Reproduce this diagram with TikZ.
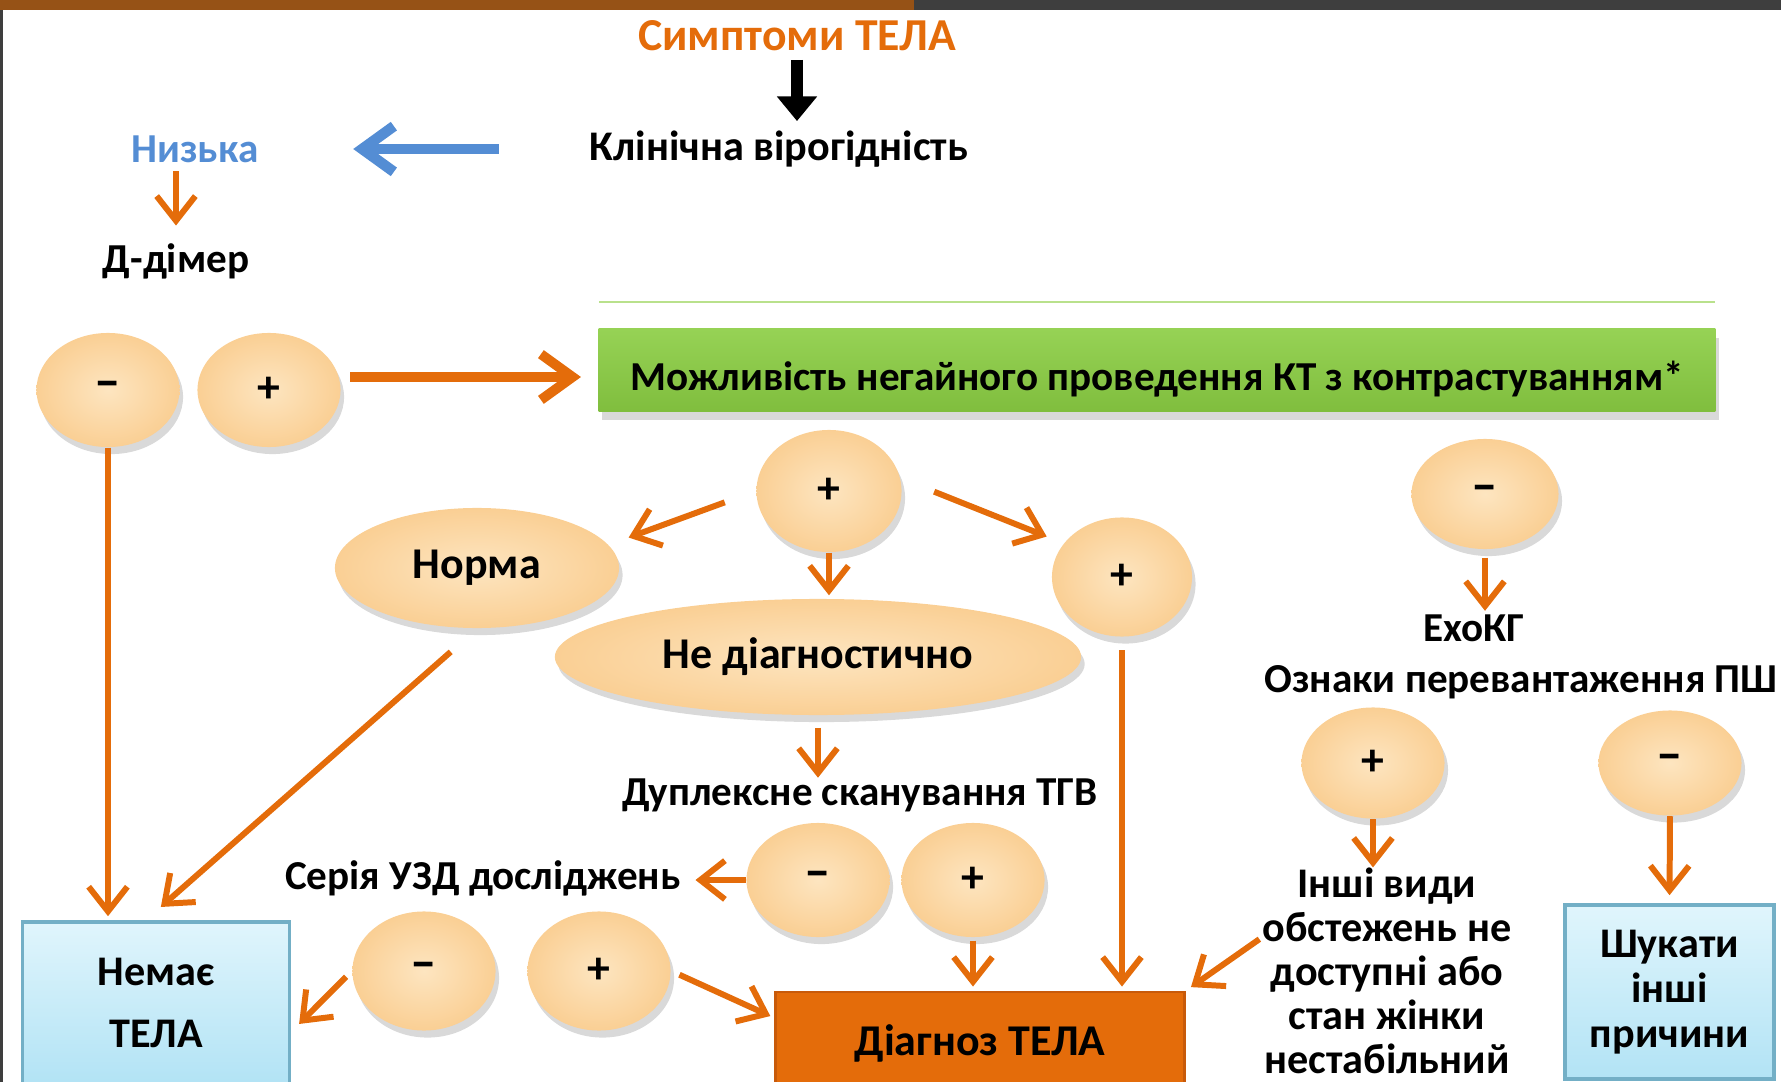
\documentclass[tikz,border=0pt]{standalone}
\usepackage{fontspec}
\setmainfont{Carlito}
\usetikzlibrary{arrows.meta,shapes.geometric,shadows}
\definecolor{ora}{RGB}{228,108,10}
\definecolor{oradk}{RGB}{200,90,10}
\definecolor{eggin}{RGB}{253,229,192}
\definecolor{eggout}{RGB}{250,207,148}
\definecolor{lowblue}{RGB}{84,141,212}
\definecolor{ctgreen}{RGB}{150,210,85}
\definecolor{ctgreendk}{RGB}{128,190,62}
\definecolor{thingreen}{RGB}{185,225,140}
\definecolor{boxtop}{RGB}{224,245,252}
\definecolor{boxbot}{RGB}{178,227,245}
\definecolor{boxline}{RGB}{115,175,198}
\definecolor{stripe}{RGB}{150,82,22}
\definecolor{framegray}{RGB}{62,62,62}

\begin{document}
\begin{tikzpicture}[x=.01cm,y=-.01cm]
\tikzstyle{every node}=[inner sep=0pt, font=\bfseries\fontsize{11.7}{14}\selectfont]
\tikzstyle{egg}=[ellipse, inner color=eggin, outer color=eggout, minimum width=1.43cm, minimum height=1.14cm, drop shadow={shadow xshift=1pt, shadow yshift=-2pt, opacity=.3}, font=\bfseries\fontsize{13}{14}\selectfont]
\tikzstyle{minus}=[font=\bfseries\fontsize{15}{16}\selectfont]
\tikzstyle{bluebox}=[rectangle, draw=boxline, line width=1pt, top color=boxtop, bottom color=boxbot, align=center]
\tikzstyle{oarr}=[draw=ora, line width=1.7pt, -{Straight Barb[length=7pt,width=11pt]}]
\tikzstyle{bigarr}=[draw=ora, line width=2.8pt, -{Straight Barb[length=9pt,width=13pt]}]
\tikzstyle{bluearr}=[draw=lowblue, line width=3pt, -{Straight Barb[length=9pt,width=13pt]}]
\tikzstyle{blkarr}=[draw=black, line width=3.4pt, -{Triangle[length=7pt,width=11pt]}]
\useasboundingbox (0,0) rectangle (1781,1082);
\clip (0,0) rectangle (1781,1082);
\fill[stripe] (0,0) rectangle (914,10);
\fill[framegray] (914,0) rectangle (1781,10);
\fill[framegray] (0,10) rectangle (3,1082);
\draw[thingreen, line width=.6pt] (599,302) -- (1715,302);
\draw (797,36) node (sympt) [text=ora, font=\bfseries\fontsize{13}{16}\selectfont] {Симптоми ТЕЛА};
\draw (779,149) node (klin) [font=\bfseries\fontsize{12}{14}\selectfont] {Клінічна вірогідність};
\draw (195,149) node (nyzka) [text=lowblue] {Низька};
\draw (176,261) node (ddimer) {Д-дімер};
\draw (108,390) node (ddneg) [egg, minus] {–};
\draw (269,390) node (ddpos) [egg] {+};
\draw (1157,370) node (ctbox) [rectangle, top color=ctgreen, bottom color=ctgreendk, minimum width=11.16cm, minimum height=.82cm, text height=4mm, text depth=0mm, drop shadow={shadow xshift=1pt, shadow yshift=-2.5pt, opacity=.3}] {Можливість негайного проведення КТ з контрастуванням*};
\draw (829,491) node (ctpos) [egg, minimum width=1.45cm, minimum height=1.22cm] {+};
\draw (1485,494) node (ctneg) [egg, minus, minimum width=1.47cm, minimum height=1.1cm] {–};
\draw (477,568) node (norma) [egg, minimum width=2.84cm, minimum height=1.2cm, font=\bfseries\fontsize{12.5}{14}\selectfont] {Норма};
\draw (818,657) node (nediag) [egg, minimum width=5.26cm, minimum height=1.16cm, font=\bfseries\fontsize{12.5}{14}\selectfont] {Не діагностично};
\draw (1122,577) node (ctpos2) [egg, minimum width=1.4cm, minimum height=1.19cm] {+};
\draw (860,795) node (duplex) {Дуплексне сканування ТГВ};
\draw (818,880) node (dupneg) [egg, minus] {–};
\draw (973,880) node (duppos) [egg] {+};
\draw (483,878) node (seria) {Серія УЗД досліджень};
\draw (424,971) node (serneg) [egg, minus, minimum height=1.19cm] {–};
\draw (599,971) node (serpos) [egg, minimum height=1.19cm] {+};
\draw (156,1003) node (nema) [bluebox, minimum width=2.67cm, minimum height=1.62cm, font=\bfseries\fontsize{12}{17.6}\selectfont] {Немає\\ТЕЛА};
\draw (980,1043) node (diagn) [rectangle, fill=ora, draw=oradk, line width=.8pt, minimum width=4.09cm, minimum height=1.02cm, font=\bfseries\fontsize{12.5}{14}\selectfont] {Діагноз ТЕЛА};
\draw (1474,628) node (exo) {ЕхоКГ};
\draw (1521,682) node (oznaky) {Ознаки перевантаження ПШ};
\draw (1373,763) node (exopos) [egg, minimum height=1.11cm] {+};
\draw (1670,763) node (exoneg) [egg, minus, minimum height=1.05cm] {–};
\draw (1387,971) node (inshi) [align=center, font=\bfseries\fontsize{12}{12.5}\selectfont] {Інші види\\обстежень не\\доступні або\\стан жінки\\нестабільний};
\draw (1669.5,992) node (shukaty) [bluebox, minimum width=2.09cm, minimum height=1.74cm, font=\bfseries\fontsize{12}{12.8}\selectfont] {Шукати\\інші\\причини};
\draw[blkarr, shorten <=.8mm, shorten >=.9mm] (sympt.south) -- (sympt.south |- klin.north);
\draw[bluearr, shorten <=9mm, shorten >=9.4mm] (klin.west) -- (nyzka.east);
\draw[oarr, shorten <=.8mm, shorten >=1.7mm] (nyzka.south -| ddimer.north) -- (ddimer.north);
\draw[bigarr, shorten <=.9mm, shorten >=1.7mm] ([yshift=-.7mm]ctbox.west -| ddpos.east) -- ([yshift=-.7mm]ctbox.west);
\draw[oarr, shorten >=.4mm] (ddneg.south) -- (ddneg.south |- nema.north);
\draw[oarr, shorten <=3.5mm, shorten >=2mm] (norma.south) -- (nema.97);
\draw[oarr, shorten <=3.3mm, shorten >=2.1mm] (ctpos.west) -- (norma.10);
\draw[oarr, shorten >=.3mm] (ctpos.south) -- (ctpos.south |- nediag.north);
\draw[oarr, shorten <=3.6mm, shorten >=1.8mm] (ctpos.10) -- (ctpos2.150);
\draw[oarr, shorten <=1.3mm, shorten >=.4mm] (ctpos2.south) -- (ctpos2.south |- diagn.north);
\draw[oarr, shorten <=.8mm, shorten >=.3mm] (ctneg.south) -- (ctneg.south |- exo.north);
\draw[oarr, shorten <=1.2mm] (nediag.south) -- (nediag.south |- duplex.north);
\draw[oarr, shorten >=1.4mm] (dupneg.west) -- (dupneg.west -| seria.east);
\draw[oarr, shorten <=.3mm, shorten >=.4mm] (duppos.south) -- (duppos.south |- diagn.north);
\draw[oarr, shorten <=.8mm, shorten >=1.1mm] (serneg.west) -- (nema.-12);
\draw[oarr, shorten <=.9mm, shorten >=.4mm] (serpos.east) -- (diagn.173);
\draw[oarr, shorten <=.3mm, shorten >=.6mm] (inshi.165) -- (diagn.north east);
\draw[oarr] (exopos.south) -- (exopos.south |- inshi.north);
\draw[oarr, shorten >=.8mm] (exoneg.south) -- (shukaty.north);
\end{tikzpicture}
\end{document}
